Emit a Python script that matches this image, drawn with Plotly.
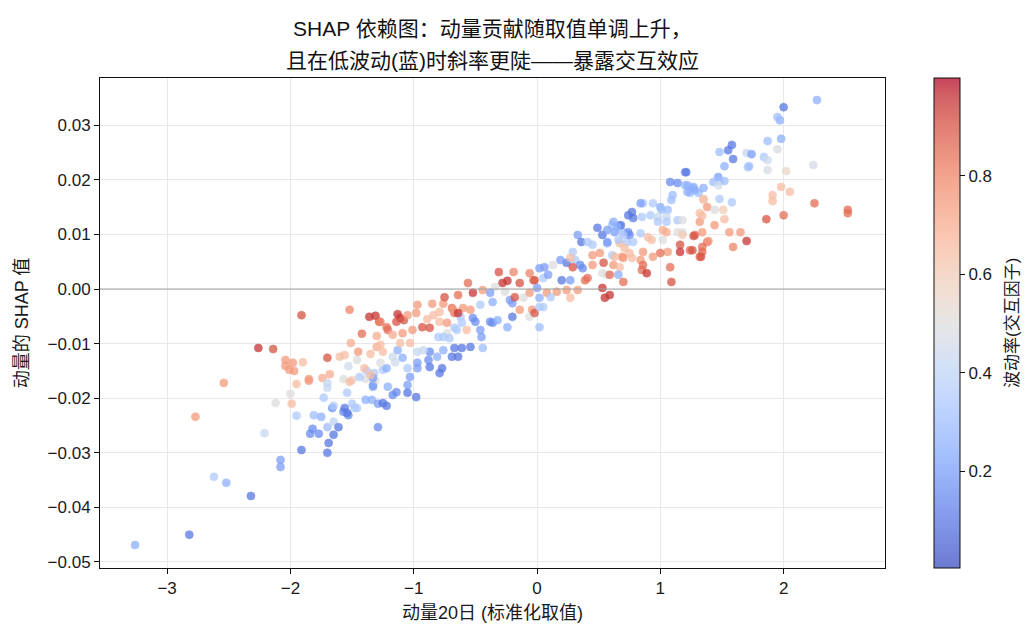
import plotly.graph_objects as go

# Data (x: standardized momentum, y: SHAP value, c: volatility)
x_vals = [
-3.26,-2.82,-2.62,-2.52,-2.32,-2.77,-2.54,-2.21,-2.08,-2.08,-1.91,-2.12,-2.00,-1.99,-1.95,-1.81,-1.84,-1.82,-1.77,-1.95,
-1.85,-2.26,-2.14,-1.91,-1.52,-1.36,-1.31,-1.28,-1.42,-1.30,-1.51,-1.70,-1.60,-1.56,-1.45,-1.35,-1.30,-2.04,-1.98,-2.04,
-2.01,-1.97,-1.90,-1.85,-1.74,-1.68,-1.53,-1.46,-1.70,-1.70,-1.57,-1.50,-1.54,-1.73,-1.75,-1.70,-1.65,-1.61,-1.65,-1.69,
-1.70,-1.66,-1.57,-1.53,-1.65,-1.50,-1.46,-1.39,-1.34,-1.29,-1.29,-1.33,-1.38,-1.32,-1.39,-1.31,-1.40,-1.27,-1.22,-1.21,
-1.17,-1.13,-1.11,-1.14,-1.08,-1.05,-0.98,-0.97,-1.09,-1.01,-0.93,-0.87,-0.89,-0.84,-0.85,-0.76,-0.75,-0.64,-0.69,-0.67,
-0.79,-0.79,-0.62,-0.65,-0.80,-0.73,-0.67,-0.64,-0.69,-0.76,-0.81,-0.87,-0.88,-0.77,-0.79,-0.87,-0.97,-0.97,-1.03,-1.05,
-1.05,-0.98,-1.14,-1.17,-1.21,-1.25,-1.22,-1.33,-1.33,-1.25,-1.22,-1.13,-1.09,-1.05,-0.92,-0.97,-1.11,-1.03,-1.27,-1.25,
-1.27,-1.35,-1.52,-1.44,-1.56,-1.54,-1.48,-1.17,-1.15,
-0.31,-0.19,-0.56,-0.24,-0.28,-0.14,-0.06,-0.03,0.02,0.06,-0.02,0.05,-0.34,-0.26,-0.52,-0.44,-0.38,-0.68,-0.60,-0.64,
-0.54,-0.46,-0.36,-0.22,-0.20,-0.18,-0.11,-0.06,0.02,0.08,-0.52,-0.50,-0.38,-0.36,-0.32,-0.24,-0.20,-0.14,-0.04,-0.06,
-0.02,0.02,0.02,-0.46,-0.45,-0.57,-0.67,-0.73,-0.61,-0.76,-0.71,-0.61,-0.54,-0.44,
0.49,0.53,0.61,0.67,0.63,0.70,0.74,0.33,0.36,0.41,0.45,0.57,0.67,0.73,0.51,0.45,0.61,0.69,0.29,0.31,
0.24,0.27,0.19,0.13,0.09,0.35,0.37,0.29,0.54,0.62,0.67,0.45,0.53,0.57,0.59,0.66,0.70,0.41,0.39,0.20,
0.27,0.24,0.33,0.53,0.55,0.59,0.27,0.16,0.11,0.00,0.05,
1.20,1.08,1.14,1.20,1.26,1.24,1.31,1.35,1.10,1.09,1.35,0.86,0.84,0.94,1.00,0.77,0.78,0.85,0.92,1.01,
1.06,0.98,1.05,0.98,1.05,1.14,1.18,1.32,1.32,1.34,0.68,0.62,0.65,0.57,0.57,0.74,0.75,0.70,0.66,0.78,
0.84,0.90,0.93,1.02,1.05,1.02,1.14,1.18,1.28,1.38,1.16,1.16,1.24,1.34,1.32,1.06,1.00,0.94,0.86,0.84,
0.86,0.85,0.89,0.71,0.75,0.77,0.70,0.63,1.08,1.09,
1.97,1.87,1.98,1.58,1.55,1.48,1.70,1.74,1.84,1.87,1.95,1.59,1.52,1.71,1.87,2.02,1.21,1.47,1.43,1.48,
1.52,1.47,1.22,1.27,1.28,1.22,1.98,2.05,1.91,1.91,1.48,1.58,1.35,1.38,1.44,1.51,1.52,1.34,1.44,1.86,
2.00,1.56,1.65,1.70,1.59,1.39,1.27,1.34,1.33,1.26,1.18,2.27,2.00,1.95,2.24,2.25,2.52,2.52,1.72]

shap_vals = [
-0.0469,-0.0450,-0.0344,-0.0355,-0.0379,-0.0234,-0.0172,-0.0264,-0.0313,-0.0326,-0.0295,-0.0209,-0.0192,-0.0210,-0.0232,-0.0231,-0.0265,-0.0256,-0.0265,-0.0174,
-0.0168,-0.0108,-0.0110,-0.0048,-0.0038,-0.0051,-0.0049,-0.0060,-0.0082,-0.0086,-0.0099,-0.0126,-0.0124,-0.0121,-0.0115,-0.0119,-0.0106,-0.0130,-0.0135,-0.0141,
-0.0148,-0.0150,-0.0134,-0.0165,-0.0163,-0.0156,-0.0141,-0.0130,-0.0172,-0.0181,-0.0165,-0.0167,-0.0190,-0.0199,-0.0234,-0.0253,-0.0243,-0.0253,-0.0267,-0.0282,
-0.0300,-0.0218,-0.0225,-0.0231,-0.0214,-0.0210,-0.0218,-0.0203,-0.0203,-0.0210,-0.0253,-0.0176,-0.0150,-0.0154,-0.0165,-0.0167,-0.0145,-0.0060,-0.0070,-0.0075,
-0.0084,-0.0046,-0.0053,-0.0060,-0.0057,-0.0048,-0.0044,-0.0029,-0.0081,-0.0075,-0.0070,-0.0071,-0.0055,-0.0048,-0.0027,-0.0027,-0.0015,-0.0011,-0.0035,-0.0044,
-0.0042,-0.0060,-0.0051,-0.0075,-0.0088,-0.0081,-0.0108,-0.0124,-0.0124,-0.0112,-0.0124,-0.0115,-0.0130,-0.0145,-0.0154,-0.0143,-0.0135,-0.0145,-0.0161,-0.0176,
-0.0190,-0.0198,-0.0189,-0.0194,-0.0179,-0.0209,-0.0214,-0.0163,-0.0179,-0.0148,-0.0145,-0.0112,-0.0126,-0.0145,-0.0112,-0.0115,-0.0099,-0.0099,-0.0102,-0.0115,
-0.0135,-0.0157,-0.0170,-0.0161,-0.0218,-0.0227,-0.0218,-0.0124,-0.0134,
0.0031,0.0031,0.0011,0.0015,0.0011,0.0011,0.0029,0.0016,0.0038,0.0040,0.0016,0.0020,0.0004,-0.0005,-0.0007,-0.0002,-0.0007,-0.0038,-0.0035,-0.0044,
-0.0038,-0.0029,-0.0024,-0.0020,-0.0026,-0.0015,-0.0016,-0.0007,-0.0016,-0.0007,-0.0053,-0.0060,-0.0060,-0.0062,-0.0057,-0.0070,-0.0051,-0.0038,-0.0038,-0.0051,
-0.0044,-0.0033,-0.0070,-0.0075,-0.0088,-0.0075,-0.0071,-0.0062,-0.0062,-0.0088,-0.0090,-0.0108,-0.0106,-0.0108,
0.0112,0.0099,0.0117,0.0117,0.0104,0.0104,0.0135,0.0099,0.0086,0.0086,0.0081,0.0084,0.0084,0.0086,0.0066,0.0062,0.0062,0.0059,0.0068,0.0053,
0.0048,0.0057,0.0053,0.0044,0.0026,0.0044,0.0038,0.0040,0.0048,0.0044,0.0040,0.0044,0.0029,0.0026,0.0026,0.0026,0.0013,0.0020,0.0016,0.0016,
0.0016,-0.0002,-0.0002,0.0002,-0.0016,-0.0011,-0.0016,-0.0005,-0.0015,0.0002,-0.0033,
0.0214,0.0196,0.0194,0.0190,0.0185,0.0176,0.0176,0.0185,0.0172,0.0163,0.0163,0.0157,0.0157,0.0157,0.0150,0.0141,0.0130,0.0132,0.0135,0.0145,
0.0145,0.0132,0.0132,0.0123,0.0123,0.0126,0.0126,0.0139,0.0123,0.0104,0.0117,0.0123,0.0113,0.0108,0.0086,0.0104,0.0099,0.0099,0.0090,0.0086,
0.0102,0.0095,0.0090,0.0108,0.0104,0.0090,0.0104,0.0104,0.0099,0.0086,0.0081,0.0068,0.0071,0.0068,0.0059,0.0068,0.0066,0.0059,0.0068,0.0053,
0.0044,0.0035,0.0029,0.0075,0.0066,0.0057,0.0057,0.0059,0.0040,0.0013,
0.0309,0.0271,0.0275,0.0264,0.0254,0.0251,0.0249,0.0247,0.0242,0.0236,0.0256,0.0238,0.0225,0.0223,0.0218,0.0216,0.0214,0.0205,0.0196,0.0198,
0.0198,0.0190,0.0190,0.0187,0.0181,0.0178,0.0187,0.0178,0.0172,0.0161,0.0165,0.0159,0.0165,0.0150,0.0145,0.0145,0.0128,0.0134,0.0117,0.0128,
0.0135,0.0104,0.0104,0.0088,0.0077,0.0088,0.0097,0.0077,0.0059,0.0071,0.0099,0.0346,0.0333,0.0315,0.0227,0.0157,0.0145,0.0139,0.0225]

vol_vals = [
0.25,0.10,0.35,0.25,0.10,0.75,0.75,0.42,0.20,0.20,0.10,0.50,0.50,0.65,0.35,0.30,0.15,0.15,0.15,0.65,
0.75,0.95,0.90,0.90,0.80,0.95,0.95,0.90,0.85,0.70,0.70,0.90,0.65,0.65,0.75,0.65,0.70,0.75,0.75,0.75,
0.75,0.75,0.65,0.75,0.70,0.70,0.45,0.50,0.42,0.42,0.50,0.60,0.35,0.35,0.25,0.30,0.40,0.10,0.10,0.10,
0.10,0.15,0.15,0.15,0.35,0.35,0.35,0.25,0.25,0.20,0.15,0.20,0.35,0.35,0.50,0.50,0.65,0.80,0.85,0.85,
0.70,0.95,0.95,0.90,0.90,0.75,0.75,0.75,0.75,0.75,0.90,0.90,0.65,0.65,0.75,0.75,0.90,0.85,0.85,0.85,
0.65,0.65,0.35,0.35,0.35,0.50,0.10,0.10,0.10,0.25,0.25,0.15,0.15,0.10,0.10,0.10,0.20,0.20,0.20,0.20,
0.10,0.10,0.15,0.15,0.25,0.10,0.10,0.20,0.20,0.35,0.25,0.25,0.25,0.35,0.42,0.42,0.65,0.65,0.65,0.65,
0.50,0.65,0.65,0.35,0.10,0.10,0.35,0.45,0.45,
0.90,0.80,0.85,0.95,0.95,0.90,0.80,0.80,0.20,0.20,0.90,0.35,0.50,0.50,0.95,0.75,0.20,0.75,0.75,0.95,
0.75,0.35,0.25,0.20,0.20,0.90,0.50,0.75,0.25,0.75,0.15,0.15,0.15,0.15,0.25,0.25,0.10,0.75,0.75,0.50,
0.90,0.35,0.30,0.20,0.20,0.65,0.35,0.75,0.35,0.35,0.35,0.10,0.10,0.30,
0.10,0.10,0.30,0.30,0.20,0.30,0.10,0.20,0.10,0.35,0.35,0.25,0.65,0.35,0.75,0.75,0.35,0.75,0.35,0.35,
0.10,0.65,0.20,0.50,0.20,0.15,0.15,0.90,0.90,0.75,0.65,0.75,0.50,0.50,0.85,0.25,0.85,0.85,0.85,0.10,
0.20,0.75,0.75,0.95,0.95,0.95,0.65,0.75,0.35,0.20,0.35,
0.20,0.15,0.15,0.30,0.30,0.30,0.30,0.25,0.30,0.30,0.60,0.35,0.20,0.35,0.25,0.10,0.10,0.35,0.35,0.30,
0.30,0.42,0.42,0.35,0.35,0.35,0.50,0.65,0.75,0.75,0.10,0.25,0.25,0.20,0.20,0.15,0.15,0.35,0.35,0.35,
0.35,0.65,0.65,0.70,0.70,0.50,0.50,0.50,0.85,0.85,0.90,0.95,0.85,0.85,0.85,0.75,0.85,0.75,0.75,0.75,
0.85,0.85,0.95,0.65,0.65,0.65,0.75,0.65,0.85,0.90,
0.25,0.30,0.25,0.10,0.10,0.30,0.42,0.20,0.35,0.45,0.48,0.10,0.25,0.35,0.48,0.55,0.10,0.20,0.30,0.30,
0.30,0.45,0.25,0.25,0.25,0.25,0.65,0.65,0.65,0.65,0.35,0.35,0.65,0.75,0.50,0.60,0.65,0.65,0.75,0.90,
0.85,0.75,0.75,0.95,0.80,0.75,0.90,0.85,0.90,0.90,0.60,0.25,0.10,0.30,0.47,0.85,0.85,0.85,0.30]

title_lines = ["SHAP 依赖图：动量贡献随取值单调上升，", "且在低波动(蓝)时斜率更陡——暴露交互效应"]
x_title = "动量20日 (标准化取值)"
y_title = "动量的 SHAP 值"
cbar_title = "波动率(交互因子)"
x_ticks = [-3, -2, -1, 0, 1, 2]
y_ticks = [-0.05, -0.04, -0.03, -0.02, -0.01, 0.00, 0.01, 0.02, 0.03]
cbar_ticks = [0.2, 0.4, 0.6, 0.8]

coolwarm_pts = [
(59,76,192),(68,90,204),(77,104,215),(87,117,225),(98,130,234),(108,142,241),(119,154,247),(130,165,251),
(141,176,254),(152,185,255),(163,194,255),(174,201,253),(184,208,249),(194,213,244),(204,217,238),(213,219,230),
(221,221,221),(229,216,209),(236,211,197),(241,204,184),(245,196,172),(247,187,160),(247,177,148),(247,166,135),
(244,154,123),(241,141,111),(236,127,99),(229,112,88),(222,96,77),(213,80,66),(203,62,56),(192,40,47),(180,4,38)]
n = len(coolwarm_pts) - 1
ALPHA = 0.75
coolwarm = [[i / n, "rgb(%d,%d,%d)" % c] for i, c in enumerate(coolwarm_pts)]
coolwarm_faded = [[i / n, "rgb(%d,%d,%d)" % tuple(round(ALPHA * v + (1 - ALPHA) * 255) for v in c)]
                  for i, c in enumerate(coolwarm_pts)]

FONT = "Liberation Sans, Arial, Noto Sans CJK SC, sans-serif"
TXT = "#1a1a1a"
cmin, cmax = 0.003, 0.999

fig = go.Figure()
fig.add_trace(go.Scatter(
    x=x_vals, y=shap_vals, mode="markers",
    marker=dict(
        size=8, color=vol_vals, colorscale=coolwarm, cmin=cmin, cmax=cmax, opacity=ALPHA,
        line=dict(width=0.7, color=vol_vals, colorscale=coolwarm, cmin=cmin, cmax=cmax),
        showscale=False,
    ),
    showlegend=False, hoverinfo="skip",
))

# colorbar carrier (no visible marks), drawn with the alpha-blended colours like the reference
fig.add_trace(go.Scatter(
    x=[None, None], y=[None, None], mode="markers",
    marker=dict(
        color=[cmin, cmax], colorscale=coolwarm_faded, cmin=cmin, cmax=cmax, showscale=True,
        colorbar=dict(
            x=1.0624, xanchor="left", xref="paper", xpad=0, ypad=0,
            y=0.5, yanchor="middle", len=1.0, lenmode="fraction",
            thickness=26, outlinewidth=1, outlinecolor="#111",
            tickvals=cbar_ticks, ticktext=["%.1f" % t for t in cbar_ticks],
            ticks="outside", ticklen=5, tickcolor="#111",
            tickfont=dict(family=FONT, size=17, color=TXT),
        ),
    ),
    showlegend=False, hoverinfo="skip",
))

fig.add_hline(y=0, line=dict(color="#a0a0a0", width=1))

for txt, ypos in zip(title_lines, [1.100, 1.035]):
    fig.add_annotation(text=txt, xref="paper", yref="paper", x=0.5, y=ypos,
                       xanchor="center", yanchor="middle", showarrow=False,
                       font=dict(family=FONT, size=21, color="#111"))

fig.add_annotation(text=cbar_title, xref="paper", yref="paper", x=1.1618, y=0.5,
                   xanchor="center", yanchor="middle", textangle=-90, showarrow=False,
                   font=dict(family=FONT, size=17, color=TXT))

fig.update_layout(
    width=1036, height=637,
    margin=dict(l=100, r=151, t=78, b=69),
    paper_bgcolor="white", plot_bgcolor="white",
    font=dict(family=FONT, size=17, color=TXT),
)
fig.update_xaxes(
    range=[-3.544, 2.822], tickvals=x_ticks, ticks="outside", ticklen=5, tickcolor="#111",
    showgrid=True, gridcolor="#e8e8e8", gridwidth=1, zeroline=False,
    showline=True, linecolor="#111", linewidth=1, mirror=True, automargin=False,
    title=dict(text=x_title, font=dict(family=FONT, size=18, color=TXT), standoff=8),
    tickfont=dict(family=FONT, size=17, color=TXT),
)
fig.update_yaxes(
    range=[-0.0511, 0.03865], tickvals=y_ticks, tickformat=".2f", ticks="outside", ticklen=5, tickcolor="#111",
    showgrid=True, gridcolor="#e8e8e8", gridwidth=1, zeroline=False,
    showline=True, linecolor="#111", linewidth=1, mirror=True, automargin=False,
    title=dict(text=y_title, font=dict(family=FONT, size=18, color=TXT), standoff=14),
    tickfont=dict(family=FONT, size=17, color=TXT),
)

fig.write_html("out.html", config={"displayModeBar": False})
